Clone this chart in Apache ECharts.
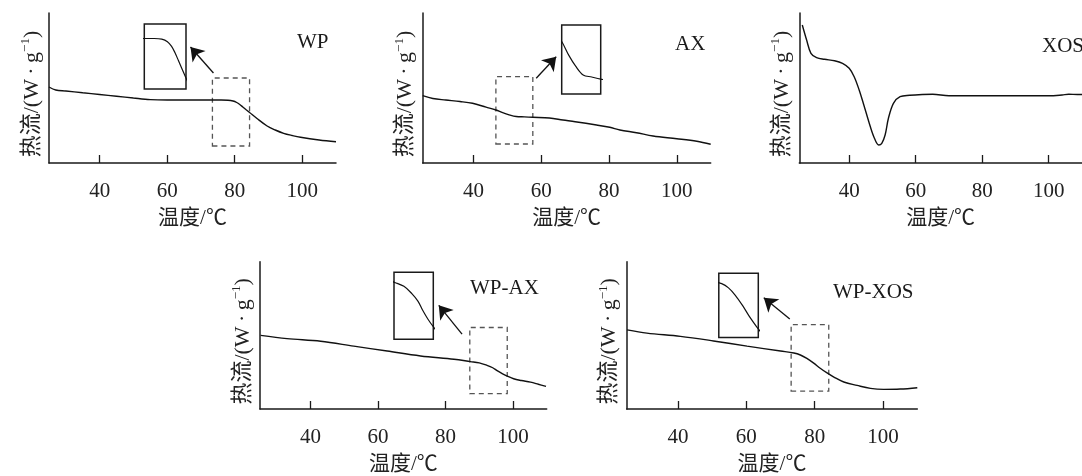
<!DOCTYPE html>
<html><head><meta charset="utf-8">
<script src="https://cdn.jsdelivr.net/npm/echarts@6/dist/echarts.min.js"></script>
<style>html,body{margin:0;padding:0;background:#fff}#c{width:1082px;height:476px}</style>
</head><body><div id="c"></div>
<script>
// ---- data ----
const xTicks = [40, 60, 80, 100];
const xRange = [25, 110];
const panelNames = ['WP', 'AX', 'XOS', 'WP-AX', 'WP-XOS'];

const wpT  = [25, 27, 30, 35, 40, 45, 50, 55, 60, 65, 70, 73.8, 76, 78, 79.5, 80.6, 81.5, 82.4, 83.3, 84.4, 86.6, 89.6, 92, 94.5, 97, 99.5, 105, 110];
const wpHF = [76, 73, 72, 70.2, 68.5, 66.8, 65, 63.4, 63, 63, 63, 63, 63, 62.8, 62, 60.5, 58.5, 56, 53.5, 50.5, 44.5, 37, 33, 29.7, 27.5, 25.7, 23, 21.3];

const axT  = [25, 28, 31.8, 36, 39.7, 43.7, 46.6, 48.6, 50.5, 52.6, 55, 57.5, 62.4, 66.4, 70, 76.3, 80.2, 83.2, 88.1, 93, 100, 105.9, 110];
const axHF = [67.3, 64.5, 63, 61.5, 59.7, 55.8, 53, 50.3, 48.2, 46.5, 46.1, 45.7, 45, 43, 41.3, 38, 35.7, 33, 30.3, 27, 24.3, 21.7, 18.7];

const xosT  = [25.9, 27.2, 28.5, 30.2, 32.6, 35.6, 38, 40, 41.5, 43, 44.4, 45.9, 47.4, 48.9, 49.8, 50.8, 51.8, 53.3, 55.3, 58.2, 62, 65.1, 70, 80, 90, 100, 104, 106, 108.6, 110];
const xosHF = [138, 123, 109.7, 105.3, 103.7, 102.3, 99.7, 94.7, 86.3, 73, 58, 41.3, 26.3, 18, 19.7, 28, 44.7, 59.7, 66.3, 67.7, 68.5, 68.7, 67.3, 67.3, 67.3, 67.3, 68, 68.7, 68.5, 68.5];

const wpaxT  = [25.2, 33, 43, 52.8, 62.7, 72.6, 82.5, 87.4, 90, 92.3, 94, 95.3, 96.8, 98.3, 100.2, 102.5, 105.2, 107.5, 109.8];
const wpaxHF = [75, 71.7, 69, 64, 59, 54, 50.7, 48.3, 47, 44.5, 42, 39, 36, 33.5, 30.8, 29, 27.3, 25.2, 23];

const wpxosT  = [25.1, 30.9, 40.7, 50.4, 60.2, 70, 73.9, 75.8, 77.7, 79.7, 81.6, 83.6, 85.6, 88.5, 92.4, 96.3, 100.2, 105, 110];
const wpxosHF = [80.6, 77.3, 74, 69.3, 64, 59, 57, 55, 51.5, 46.7, 41.5, 36.7, 32.5, 27.5, 24, 21, 20, 20.3, 21.7];

// zoom windows [xMin, xMax, yMin, yMax] shown by the dashed boxes
const wpZoom    = [73.4, 84.4, 17, 85];
const axZoom    = [46.6, 57.5, 19, 86.3];
const wpaxZoom  = [87.2, 98.3, 15.7, 83];
const wpxosZoom = [73.1, 84.1, 18.3, 86];
// inset value ranges [yMin, yMax]
const wpInsetY    = [47, 67.6];
const axInsetY    = [42.8, 56.2];
const wpaxInsetY  = [29.3, 51.7];
const wpxosInsetY = [31.5, 61.9];
// arrow [x0, y0, x1, y1] in data units
const wpArrow    = [73.7, 90, 66.9, 116];
const axArrow    = [58.5, 84.7, 64.4, 106.3];
const wpaxArrow  = [84.9, 76.3, 78, 105.6];
const wpxosArrow = [72.7, 91.6, 65.1, 113.3];

// ---- layout ----
const FONT = '"Liberation Serif","Times New Roman","Noto Sans CJK SC",serif';
const mainGrids = [
  {left: 49,    top: 13,    width: 287,   height: 150},
  {left: 422.7, top: 13,    width: 288,   height: 150},
  {left: 799.3, top: 13,    width: 288,   height: 150},
  {left: 260,   top: 261.7, width: 286.7, height: 150.6},
  {left: 626.7, top: 261.7, width: 290.6, height: 151.6}
];
const insetGrids = [
  {left: 144.3, top: 24,    width: 41.7, height: 65},
  {left: 561.7, top: 25,    width: 39,   height: 69},
  null,
  {left: 394,   top: 272.3, width: 39.3, height: 67},
  {left: 718.8, top: 273.3, width: 39.5, height: 64.2}
];
const labelPos = [
  {left: 297, top: 32}, {left: 675, top: 34}, {left: 1042, top: 36},
  {left: 470, top: 278}, {left: 833, top: 282}
];

const panels = [
  {T: wpT, HF: wpHF, zoom: wpZoom, insetY: wpInsetY, arrow: wpArrow},
  {T: axT, HF: axHF, zoom: axZoom, insetY: axInsetY, arrow: axArrow},
  {T: xosT, HF: xosHF, zoom: null, insetY: null, arrow: null},
  {T: wpaxT, HF: wpaxHF, zoom: wpaxZoom, insetY: wpaxInsetY, arrow: wpaxArrow},
  {T: wpxosT, HF: wpxosHF, zoom: wpxosZoom, insetY: wpxosInsetY, arrow: wpxosArrow}
];

const grid = [], xAxis = [], yAxis = [], series = [], graphic = [];
const axisColor = '#1a1a1a';

panels.forEach((p, i) => {
  const data = p.T.map((t, k) => [t, p.HF[k]]);
  const gi = grid.length;
  grid.push(Object.assign({containLabel: false}, mainGrids[i]));
  xAxis.push({
    gridIndex: gi, type: 'value', min: xRange[0], max: xRange[1],
    name: '温度/℃', nameLocation: 'middle', nameGap: 45,
    nameTextStyle: {fontFamily: FONT, fontSize: 21, color: '#222'},
    axisLine: {show: true, onZero: false, lineStyle: {color: axisColor, width: 1.5}},
    axisTick: {show: true, inside: true, length: 8, customValues: xTicks, lineStyle: {color: axisColor, width: 1.3}},
    axisLabel: {show: true, margin: 18, customValues: xTicks, fontFamily: FONT, fontSize: 21, color: '#222'},
    splitLine: {show: false}
  });
  yAxis.push({
    gridIndex: gi, type: 'value', min: 0, max: 150,
    name: '{a|热流/(W\u2009·\u2009g}{s|−1}{e|)}', nameLocation: 'middle', nameGap: 6, nameRotate: 90,
    nameTextStyle: {
      rich: {
        a: {fontFamily: FONT, fontSize: 22, color: '#222', lineHeight: 24, verticalAlign: 'bottom'},
        s: {fontFamily: FONT, fontSize: 13, color: '#222', lineHeight: 14, verticalAlign: 'top'},
        e: {fontFamily: FONT, fontSize: 22, color: '#222', lineHeight: 24, verticalAlign: 'bottom', padding: [0, 12, 0, 0]}
      }
    },
    axisLine: {show: true, onZero: false, lineStyle: {color: axisColor, width: 1.5}},
    axisTick: {show: false}, axisLabel: {show: false}, splitLine: {show: false}
  });
  const s = {
    type: 'line', xAxisIndex: gi, yAxisIndex: gi, data: data,
    showSymbol: false, smooth: 0.35, silent: true,
    lineStyle: {color: '#111', width: 1.4}
  };
  if (p.zoom) {
    s.markArea = {
      silent: true,
      itemStyle: {color: 'rgba(0,0,0,0)', borderColor: '#555', borderWidth: 1.3, borderType: [5, 4]},
      data: [[{coord: [p.zoom[0], p.zoom[2]]}, {coord: [p.zoom[1], p.zoom[3]]}]]
    };
    s.markLine = {
      silent: true, symbol: ['none', 'arrow'], symbolSize: 13,
      label: {show: false},
      lineStyle: {color: '#111', width: 1.3, type: 'solid'},
      itemStyle: {color: '#111'},
      data: [[{coord: [p.arrow[0], p.arrow[1]]}, {coord: [p.arrow[2], p.arrow[3]]}]]
    };
  }
  series.push(s);

  if (p.zoom) {
    const ii = grid.length;
    grid.push(Object.assign({show: true, borderColor: '#1a1a1a', borderWidth: 1.5, backgroundColor: 'rgba(0,0,0,0)'}, insetGrids[i]));
    xAxis.push({gridIndex: ii, type: 'value', min: p.zoom[0], max: p.zoom[1], show: false});
    yAxis.push({gridIndex: ii, type: 'value', min: p.insetY[0], max: p.insetY[1], show: false});
    series.push({
      type: 'line', xAxisIndex: ii, yAxisIndex: ii, data: data, clip: true,
      showSymbol: false, smooth: 0.35, silent: true,
      lineStyle: {color: '#111', width: 1.2}
    });
  }

  graphic.push({
    type: 'text', left: labelPos[i].left, top: labelPos[i].top, silent: true,
    style: {text: panelNames[i], font: '21px ' + FONT, fill: '#1a1a1a'}
  });
});

const chart = echarts.init(document.getElementById('c'), null, {renderer: 'canvas'});
chart.setOption({
  animation: false,
  backgroundColor: '#ffffff',
  grid, xAxis, yAxis, series, graphic
});
</script>
</body></html>
